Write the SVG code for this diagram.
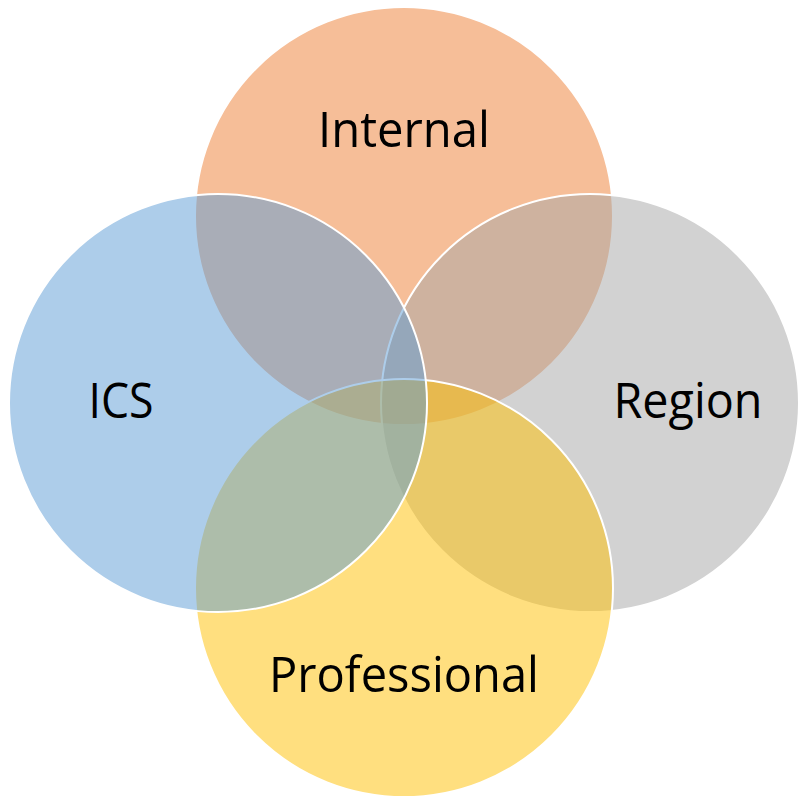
<svg xmlns="http://www.w3.org/2000/svg" width="799" height="798" viewBox="0 0 799 798">
<style>
.c{stroke:#ffffff;stroke-width:2;fill-opacity:0.5}
.t{font-family:"Open Sans","Noto Sans",sans-serif;font-size:49px;fill:#000000;text-anchor:middle}
</style>
<rect width="799" height="798" fill="#ffffff"/>
<g id="internal"><circle class="c" cx="404" cy="216" r="209" fill="#ED7D31"/></g>
<g id="region"><circle class="c" cx="590" cy="403" r="209" fill="#A5A5A5"/></g>
<g id="professional"><circle class="c" cx="404" cy="588" r="209" fill="#FFC000"/></g>
<g id="ics"><circle class="c" cx="218" cy="403" r="209" fill="#5B9BD5"/></g>
<g id="labels">
<text class="t" x="404" y="147" textLength="172" lengthAdjust="spacingAndGlyphs">Internal</text>
<text class="t" x="121" y="418" textLength="65" lengthAdjust="spacingAndGlyphs">ICS</text>
<text class="t" x="688" y="418" textLength="149" lengthAdjust="spacingAndGlyphs">Region</text>
<text class="t" x="404" y="692" textLength="270" lengthAdjust="spacingAndGlyphs">Professional</text>
</g>
<g id="connectors"/>
</svg>
